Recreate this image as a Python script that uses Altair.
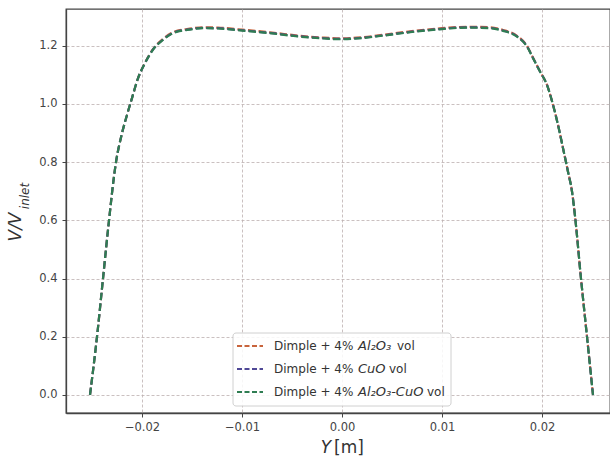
import altair as alt
import pandas as pd

# Transverse position across the channel [m]
y_pos = [-0.0252, -0.0245, -0.0239, -0.0234, -0.0226, -0.0220, -0.0215, -0.0210,
         -0.0204, -0.0197, -0.0189, -0.0179, -0.0169, -0.0155, -0.0139, -0.0124,
         -0.0100, -0.0070, -0.0042, -0.0020, 0.0000, 0.0020, 0.0040, 0.0070,
         0.0100, 0.0125, 0.0148, 0.0161, 0.0175, 0.0185, 0.0191, 0.0198,
         0.0205, 0.0211, 0.0216, 0.0221, 0.0226, 0.0230, 0.0233, 0.0239,
         0.0245, 0.0251]

# Normalised velocity V/V_inlet for each nanofluid
v_al2o3 = [0.000, 0.200, 0.400, 0.567, 0.800, 0.899, 0.962, 1.020,
           1.088, 1.141, 1.188, 1.223, 1.246, 1.257, 1.263, 1.262,
           1.255, 1.245, 1.234, 1.228, 1.225, 1.229, 1.237, 1.250,
           1.260, 1.265, 1.263, 1.254, 1.234, 1.199, 1.159, 1.112,
           1.065, 0.997, 0.928, 0.848, 0.767, 0.699, 0.615, 0.400,
           0.200, 0.000]
v_cuo = [0.000, 0.200, 0.400, 0.567, 0.800, 0.899, 0.962, 1.020,
         1.088, 1.140, 1.187, 1.221, 1.244, 1.255, 1.261, 1.260,
         1.253, 1.243, 1.232, 1.226, 1.223, 1.227, 1.235, 1.248,
         1.258, 1.263, 1.261, 1.252, 1.232, 1.198, 1.158, 1.111,
         1.065, 0.997, 0.928, 0.848, 0.767, 0.699, 0.615, 0.400,
         0.200, 0.000]
v_hybrid = [0.000, 0.200, 0.400, 0.567, 0.800, 0.899, 0.962, 1.020,
            1.088, 1.140, 1.186, 1.220, 1.243, 1.254, 1.260, 1.259,
            1.252, 1.242, 1.231, 1.225, 1.222, 1.226, 1.234, 1.247,
            1.257, 1.262, 1.260, 1.251, 1.231, 1.197, 1.157, 1.111,
            1.065, 0.997, 0.928, 0.848, 0.767, 0.699, 0.615, 0.400,
            0.200, 0.000]

series_colors = ["#c8643c", "#4f4896", "#2f7d52"]
series_values = [v_al2o3, v_cuo, v_hybrid]
legend_chem = ["Al₂O₃", "CuO", "Al₂O₃-CuO"]

x_ticks = [-0.02, -0.01, 0.0, 0.01, 0.02]
y_ticks = [0.0, 0.2, 0.4, 0.6, 0.8, 1.0, 1.2]

W, H = 544, 404
FONT = "DejaVu Sans"
AX = "#444444"
GRID = "#bdb0b0"
DASH = [7.4, 3.2]

x_enc = alt.X(
    "y:Q",
    scale=alt.Scale(domain=[-0.0276, 0.0268], nice=False, zero=False),
    axis=alt.Axis(values=x_ticks, format=".2f", title=None, grid=True,
                  gridDash=[3, 2], gridColor=GRID, gridWidth=0.8,
                  domainColor=AX, domainWidth=1.3, tickColor=AX, tickSize=4,
                  labelColor=AX, labelFontSize=11.5, labelFont=FONT, labelPadding=4),
)
y_enc = alt.Y(
    "v:Q",
    scale=alt.Scale(domain=[-0.062, 1.326], nice=False, zero=False),
    axis=alt.Axis(values=y_ticks, format=".1f", title=None, grid=True,
                  gridDash=[3, 2], gridColor=GRID, gridWidth=0.8,
                  domainColor=AX, domainWidth=1.3, tickColor=AX, tickSize=4,
                  labelColor=AX, labelFontSize=11.5, labelFont=FONT, labelPadding=5),
)

layers = []
for color, vals in zip(series_colors, series_values):
    df = pd.DataFrame({"y": y_pos, "v": vals})
    layers.append(
        alt.Chart(df).mark_line(color=color, strokeWidth=2.2, strokeDash=DASH,
                                interpolate="monotone", clip=True)
        .encode(x=x_enc, y=y_enc)
    )

one = pd.DataFrame({"k": [0]})


def txt(s, x, y, size=12, style="normal", angle=0, align="left", color="#333333"):
    return alt.Chart(one).mark_text(
        text=s, font=FONT, fontSize=size, fontStyle=style, angle=angle,
        align=align, baseline="middle", color=color,
    ).encode(x=alt.value(x), y=alt.value(y))


# Legend (pixel offsets are relative to the plot-area origin)
ox, oy = 66, 9
leg_box = alt.Chart(one).mark_rect(
    fill="white", fillOpacity=0.85, stroke="#d0d0d0", strokeWidth=1, cornerRadius=3
).encode(x=alt.value(233 - ox), x2=alt.value(451 - ox),
         y=alt.value(333 - oy), y2=alt.value(406 - oy))

legend_layers = [leg_box]
rows_y = [346, 369, 392]
vol_x = [397, 389, 427]
for chem, vx, color, ry in zip(legend_chem, vol_x, series_colors, rows_y):
    legend_layers.append(
        alt.Chart(one).mark_rule(color=color, strokeWidth=2, strokeDash=[5, 2.5])
        .encode(x=alt.value(237 - ox), x2=alt.value(263 - ox), y=alt.value(ry - oy))
    )
    legend_layers.append(txt("Dimple + 4%", 274 - ox, ry - oy))
    legend_layers.append(txt(chem, 358 - ox, ry - oy, size=13, style="italic"))
    legend_layers.append(txt("vol", vx - ox, ry - oy))

# Axis titles
titles = [
    txt("Y", 326 - ox, 448 - oy, size=17, style="italic", align="center"),
    txt("[m]", 334 - ox, 448 - oy, size=17),
    txt("V/V", 16 - ox, 227 - oy, size=17, style="italic", angle=270, align="center"),
    txt("inlet", 25 - ox, 196 - oy, size=12, style="italic", angle=270, align="center"),
]

chart = alt.layer(*layers, *legend_layers, *titles).properties(
    width=W, height=H,
    autosize=alt.AutoSizeParams(type="none"),
    padding={"left": ox, "top": oy, "right": 0, "bottom": 458 - oy - H},
    background="white",
).configure_view(stroke=AX, strokeWidth=1.3)

chart.save("out.html", embed_options={"renderer": "svg", "actions": False})
